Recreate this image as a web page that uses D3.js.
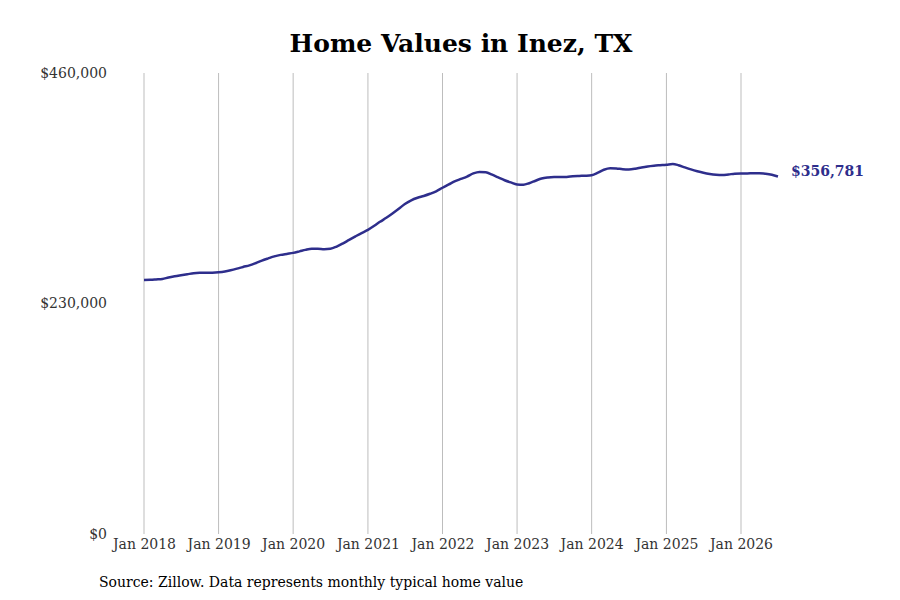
<!DOCTYPE html>
<html>
<head>
<meta charset="utf-8">
<script src="https://cdn.jsdelivr.net/npm/d3@7"></script>
<style>
  body { margin: 0; background: #fff; }
  text { font-family: "DejaVu Serif", serif; }
</style>
</head>
<body>
<svg id="chart" width="900" height="600"></svg>
<script>
// monthly typical home value, Jan 2018 .. Jul 2026
let startMonth = new Date(2018, 0, 1);
let values = [
  253.4, 253.6, 254.0, 254.5, 256.0, 257.2, 258.2, 259.2, 260.2, 260.6, 260.7, 260.8,
  261.2, 262.0, 263.2, 264.8, 266.5, 268.0, 270.2, 272.8, 275.0, 277.0, 278.5, 279.5,
  280.5, 282.0, 283.5, 284.6, 284.6, 284.2, 284.6, 286.8, 290.0, 293.5, 297.0, 300.3,
  303.5, 307.5, 311.5, 315.5, 319.8, 324.5, 329.3, 333.0, 335.5, 337.3, 339.5, 342.0,
  345.5, 348.8, 351.8, 354.3, 356.6, 359.8, 361.3, 361.0, 358.5, 355.8, 353.0, 350.8,
  348.8, 348.5, 350.0, 352.5, 354.8, 355.8, 356.2, 356.2, 356.3, 357.0, 357.3, 357.5,
  358.0, 360.5, 363.5, 365.0, 364.8, 364.0, 363.8, 364.5, 365.8, 366.8, 367.5, 368.0,
  368.5, 369.2, 368.0, 365.8, 363.8, 362.0, 360.5, 359.3, 358.5, 358.2, 358.8, 359.5,
  359.8, 359.7, 360.0, 360.0, 359.5, 358.5, 356.781
];
let tickYears = [2018, 2019, 2020, 2021, 2022, 2023, 2024, 2025, 2026];
let yTicks = [0, 230000, 460000];
let lastLabel = "$356,781";

let data = values.map(function (v, i) {
  return { date: new Date(startMonth.getFullYear(), startMonth.getMonth() + i, 1), value: v * 1000 };
});

let svg = d3.select("#chart");
let plotLeft = 144, plotRight = 741, plotTop = 73, plotBottom = 534;

let x = d3.scaleTime()
  .domain([new Date(2018, 0, 1), new Date(2026, 0, 1)])
  .range([plotLeft, plotRight]);
let y = d3.scaleLinear()
  .domain([0, 460000])
  .range([plotBottom, plotTop]);

// vertical grid lines at each January
svg.selectAll(".grid").data(tickYears).enter()
  .append("line")
  .attr("class", "grid")
  .attr("x1", function (d) { return x(new Date(d, 0, 1)); })
  .attr("x2", function (d) { return x(new Date(d, 0, 1)); })
  .attr("y1", plotTop)
  .attr("y2", plotBottom)
  .attr("stroke", "#bdbdbd")
  .attr("stroke-width", 1);

let xAxis = d3.axisBottom(x)
  .tickValues(tickYears.map(function (d) { return new Date(d, 0, 1); }))
  .tickFormat(d3.timeFormat("Jan %Y"))
  .tickSize(0)
  .tickPadding(5);
let gx = svg.append("g").attr("transform", "translate(0," + plotBottom + ")").call(xAxis);
gx.select(".domain").remove();
gx.selectAll("text").attr("font-size", 14).attr("fill", "#333").attr("font-family", "DejaVu Serif, serif");

let yAxis = d3.axisLeft(y)
  .tickValues(yTicks)
  .tickFormat(function (d) { return "$" + d3.format(",")(d); })
  .tickSize(0)
  .tickPadding(37);
let gy = svg.append("g").attr("transform", "translate(" + plotLeft + ",0)").call(yAxis);
gy.select(".domain").remove();
gy.selectAll("text").attr("font-size", 14).attr("fill", "#333").attr("font-family", "DejaVu Serif, serif");

let line = d3.line()
  .x(function (d) { return x(d.date); })
  .y(function (d) { return y(d.value); })
  .curve(d3.curveMonotoneX);

svg.append("path")
  .datum(data)
  .attr("d", line)
  .attr("fill", "none")
  .attr("stroke", "#2e2e8c")
  .attr("stroke-width", 2.5);

let last = data[data.length - 1];
svg.append("text")
  .attr("x", x(last.date) + 13)
  .attr("y", y(last.value) - 4)
  .attr("dominant-baseline", "middle")
  .attr("font-size", 14)
  .attr("font-weight", "bold")
  .attr("fill", "#2e2e8c")
  .text(lastLabel);

svg.append("text")
  .attr("x", 461)
  .attr("y", 52)
  .attr("text-anchor", "middle")
  .attr("font-size", 25)
  .attr("font-weight", "bold")
  .attr("fill", "#000")
  .text("Home Values in Inez, TX");

svg.append("text")
  .attr("x", 99)
  .attr("y", 587)
  .attr("font-size", 14)
  .attr("font-family", "DejaVu Serif, serif")
  .attr("fill", "#000")
  .text("Source: Zillow. Data represents monthly typical home value");
</script>
</body>
</html>
